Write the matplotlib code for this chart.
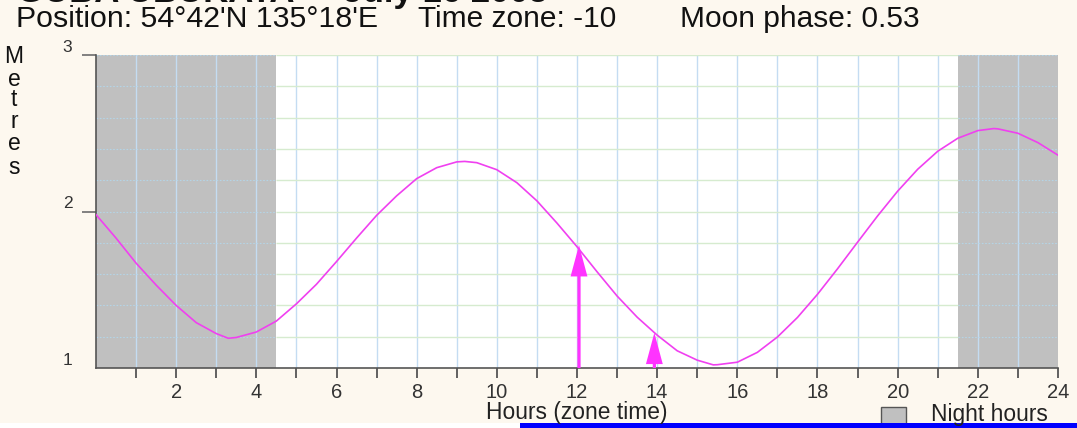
import matplotlib.pyplot as plt
from matplotlib.patches import Rectangle

plt.rcParams['font.family'] = ['Liberation Sans', 'DejaVu Sans']

# --- tide curve (hours, metres) ---
hours = [0, 0.5, 1, 1.5, 2, 2.5, 3, 3.3, 3.5, 4, 4.5, 5, 5.5, 6, 6.5, 7, 7.5, 8, 8.5, 9,
         9.2, 9.5, 10, 10.5, 11, 11.5, 12, 12.5, 13, 13.5, 14, 14.5, 15, 15.4, 15.5, 16,
         16.5, 17, 17.5, 18, 18.5, 19, 19.5, 20, 20.5, 21, 21.5, 22, 22.4, 22.5, 23, 23.5, 24]
metres = [1.98, 1.83, 1.67, 1.53, 1.40, 1.29, 1.22, 1.19, 1.195, 1.23, 1.30, 1.41, 1.535,
          1.68, 1.83, 1.975, 2.10, 2.21, 2.28, 2.317, 2.32, 2.312, 2.267, 2.184, 2.068,
          1.926, 1.775, 1.615, 1.46, 1.325, 1.21, 1.11, 1.05, 1.02, 1.021, 1.037, 1.10,
          1.198, 1.323, 1.471, 1.634, 1.804, 1.972, 2.13, 2.27, 2.385, 2.468, 2.517, 2.53,
          2.528, 2.50, 2.44, 2.36]

night_spans = [(0, 4.5), (21.5, 24)]
arrow_times = [12.05, 13.93]
arrow_heights = [1.785, 1.225]

title = "GUBA UBUKATA  -  July 16 2005"
position_txt = "Position: 54°42'N 135°18'E"
zone_txt = "Time zone: -10"
moon_txt = "Moon phase: 0.53"

W, H = 1077, 428
fig = plt.figure(figsize=(W / 100, H / 100), dpi=100)
fig.patch.set_facecolor('#FDF8EF')

ax = fig.add_axes([96 / W, 60 / H, (1058 - 96) / W, (368 - 55) / H])
ax.set_facecolor('white')
ax.set_xlim(0, 24)
ax.set_ylim(1, 3)

# night shading
for a, b in night_spans:
    ax.axvspan(a, b, color='#C0C0C0', zorder=0.5, lw=0)

# grid: hourly verticals, 0.2 m horizontals
for h in range(1, 24):
    ax.axvline(h, color='#C4DCF2', lw=1, zorder=1)
for y in [1.2, 1.4, 1.6, 1.8, 2.0, 2.2, 2.4, 2.6, 2.8, 3.0]:
    ax.hlines(y, 4.5, 21.5, color='#D6EBCF', lw=1, zorder=1)
    for a, b in night_spans:
        ax.hlines(y, a, b, color='#B4D4E6', lw=0.8, ls=(0, (1.5, 1.5)), zorder=1)

ax.plot(hours, metres, color='#F040F0', lw=1.2, zorder=3)

for t, top in zip(arrow_times, arrow_heights):
    ax.arrow(t, 1.0, 0, top - 1.0, width=0.08, head_width=0.42, head_length=0.2,
             length_includes_head=True, color='#FF33FF', lw=0, zorder=4)

# axes styling
for s in ['top', 'right']:
    ax.spines[s].set_visible(False)
for s in ['left', 'bottom']:
    ax.spines[s].set_color('#555555')
    ax.spines[s].set_linewidth(1.2)

ax.set_xticks(range(1, 25))
ax.set_xticklabels([str(h) if h % 2 == 0 else '' for h in range(1, 25)],
                   fontsize=14.5, color='#333333')
ax.tick_params(axis='x', direction='out', length=7.5, width=1.3, color='#555555', pad=3)
ax.set_yticks([1, 2, 3])
ax.set_yticklabels(['1', '2', '3'], va='bottom', fontsize=12.5, color='#333333')
ax.tick_params(axis='y', direction='out', length=10, width=1.3, color='#777777', pad=7)
ax.yaxis.get_major_ticks()[0].tick1line.set_visible(False)

fig.text(577 / W, 1 - 413 / H, 'Hours (zone time)', ha='center', va='center',
         fontsize=16.4, color='#222222')

# header
fig.text(17 / W, 1 - 2 / H, title, fontsize=25, fontweight='bold', va='baseline',
         color='#111111')
fig.text(16 / W, 1 - 19 / H, position_txt, fontsize=21.8, va='center', color='#111111')
fig.text(418 / W, 1 - 19 / H, zone_txt, fontsize=21.5, va='center', color='#111111')
fig.text(680 / W, 1 - 19 / H, moon_txt, fontsize=21.5, va='center', color='#111111')

# vertical "Metres"
for ch, yp in zip('Metres', [57, 79, 100, 122, 144, 167]):
    fig.text(14 / W, 1 - yp / H, ch, fontsize=16.5, ha='center', va='center', color='#111111')

# legend
fig.patches.append(Rectangle((881 / W, 1 - 430 / H), 25 / W, 23 / H, transform=fig.transFigure,
                             facecolor='#C0C0C0', edgecolor='#555555', lw=1))
fig.text(931 / W, 1 - 415 / H, 'Night hours', fontsize=16.4, va='center', color='#222222')

# bottom strips
fig.patches.append(Rectangle((0, 0), 520 / W, 5 / H, transform=fig.transFigure,
                             facecolor='white', edgecolor='none'))
fig.patches.append(Rectangle((520 / W, 0), 1 - 520 / W, 5 / H, transform=fig.transFigure,
                             facecolor='#0000FF', edgecolor='none'))

fig.savefig('out.png', dpi=100, facecolor=fig.get_facecolor())
